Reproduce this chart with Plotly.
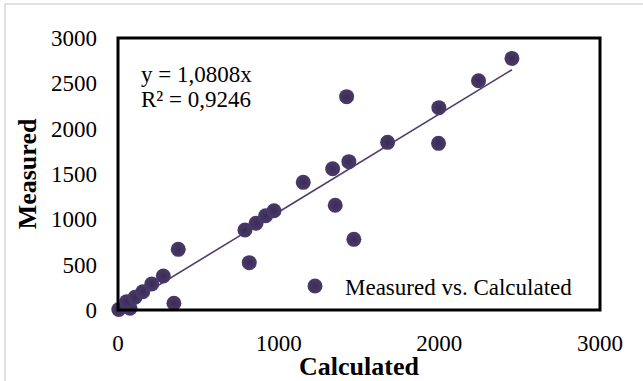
import plotly.graph_objects as go

calculated = [5, 75, 54, 106, 154, 210, 282, 375, 348, 790, 817, 859, 919, 971,
              1153, 1336, 1437, 1423, 1352, 1468, 1678, 1997, 1995, 2244, 2452]
measured = [5, 19, 92, 140, 202, 287, 375, 669, 74, 882, 522, 956, 1040, 1095,
            1408, 1558, 1636, 2353, 1155, 779, 1849, 2232, 1838, 2529, 2775]
slope = 1.0808
r2_text = "0,9246"
series_name = "Measured vs. Calculated"
x_ticks = [0, 1000, 2000, 3000]
y_ticks = [0, 500, 1000, 1500, 2000, 2500, 3000]

W, H = 643, 381
L, R, T, B = 118, 43, 38, 71
pw, ph = W - L - R, H - T - B

def px_x(p):
    return (p - L) / pw

def px_y(p):
    return (H - B - p) / ph

FONT = "Liberation Serif, Times New Roman, serif"
PURPLE = "#4a3a6a"

fig = go.Figure()
xmax = max(calculated)
fig.add_trace(go.Scatter(
    x=[0, xmax], y=[0, slope * xmax], mode="lines",
    line=dict(color="#4f3d6f", width=1.6), showlegend=False, hoverinfo="skip"))
fig.add_trace(go.Scatter(
    x=calculated, y=measured, mode="markers", name=series_name, cliponaxis=False,
    marker=dict(size=15, color=PURPLE,
                gradient=dict(type="radial", color="#3a2c55"),
                line=dict(width=0))))

fig.update_layout(
    width=W, height=H,
    margin=dict(l=L, r=R, t=T, b=B, autoexpand=False),
    paper_bgcolor="white", plot_bgcolor="white",
    font=dict(family=FONT, size=23, color="black"),
    showlegend=True,
    legend=dict(x=px_x(285), y=px_y(286), xanchor="left", yanchor="middle",
                bgcolor="rgba(0,0,0,0)", font=dict(size=23, family=FONT),
                itemsizing="trace", itemwidth=50),
    xaxis=dict(range=[0, 3000], tickvals=x_ticks, ticktext=[str(v) for v in x_ticks],
               showgrid=False, zeroline=False, showline=False, automargin=False,
               ticks="", ticklabelstandoff=17,
               title=dict(text="<b>Calculated</b>", font=dict(size=26, family=FONT), standoff=2)),
    yaxis=dict(range=[0, 3000], tickvals=y_ticks, ticktext=[str(v) for v in y_ticks],
               showgrid=False, zeroline=False, showline=False, automargin=False,
               ticks="", ticklabelstandoff=20,
               title=dict(text="<b>Measured</b>", font=dict(size=26, family=FONT), standoff=6)),
    shapes=[
        dict(type="rect", xref="paper", yref="paper", x0=0, y0=0, x1=1, y1=1,
             line=dict(color="black", width=3), fillcolor="rgba(0,0,0,0)", layer="above"),
        dict(type="rect", xref="paper", yref="paper",
             x0=px_x(5), y0=px_y(390), x1=px_x(660), y1=px_y(4),
             line=dict(color="#d9d9d9", width=1.5), fillcolor="rgba(0,0,0,0)"),
    ],
    annotations=[
        dict(xref="paper", yref="paper", x=px_x(139), y=px_y(75), xanchor="left", yanchor="middle",
             text=f"y = {str(slope).replace('.', ',')}x", align="left",
             showarrow=False, font=dict(size=23, family=FONT)),
        dict(xref="paper", yref="paper", x=px_x(139), y=px_y(99), xanchor="left", yanchor="middle",
             text=f"R² = {r2_text}", align="left",
             showarrow=False, font=dict(size=23, family=FONT)),
    ],
)

fig.write_html("out.html")
